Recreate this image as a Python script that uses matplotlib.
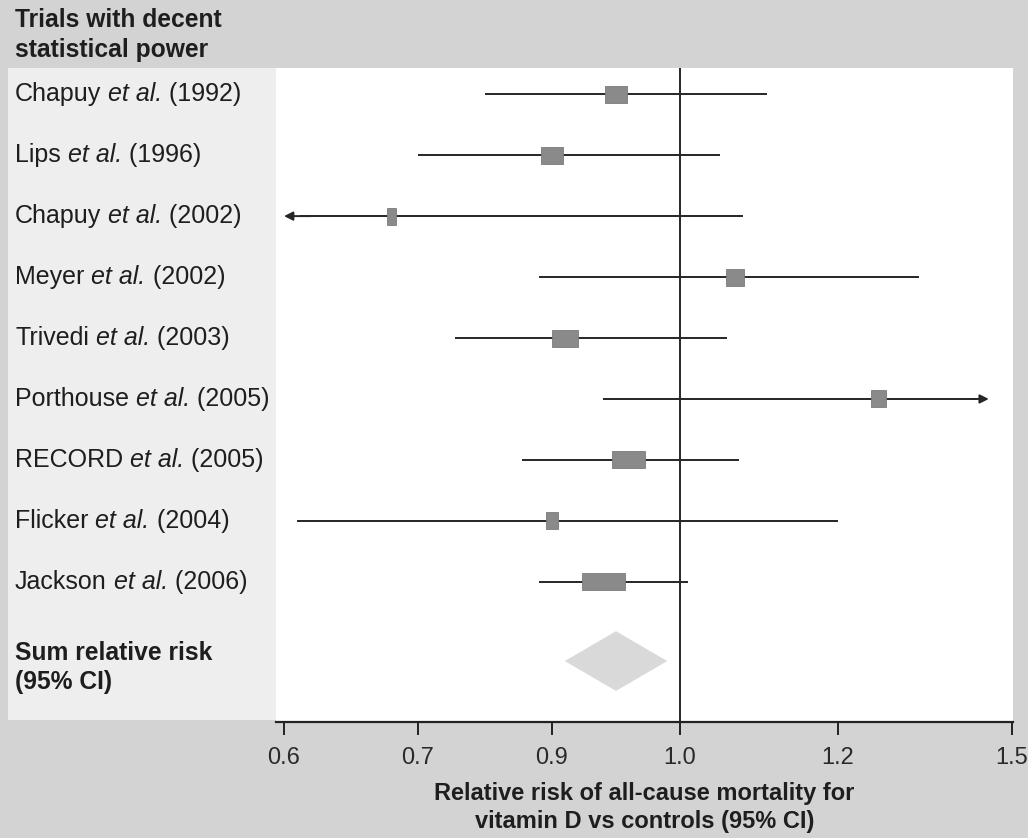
import numpy as np
import matplotlib
matplotlib.use("Agg")
import matplotlib.pyplot as plt
from matplotlib.patches import Rectangle, Polygon
from matplotlib.transforms import ScaledTranslation, blended_transform_factory

plt.rcParams['font.family'] = ['Liberation Sans', 'DejaVu Sans']

# ---- data -------------------------------------------------------------
authors = ["Chapuy", "Lips", "Chapuy", "Meyer", "Trivedi",
           "Porthouse", "RECORD", "Flicker", "Jackson"]
years = [1992, 1996, 2002, 2002, 2003, 2005, 2005, 2004, 2006]
rel_risk = [0.95, 0.90, 0.68, 1.07, 0.91, 1.27, 0.96, 0.90, 0.94]
ci_low = [0.80, 0.70, 0.60, 0.88, 0.755, 0.94, 0.855, 0.61, 0.88]
ci_high = [1.11, 1.05, 1.08, 1.34, 1.06, 1.46, 1.075, 1.20, 1.01]
truncated = ["", "", "low", "", "", "high", "", "", ""]
weight_pct = [10.9, 11.4, 4.5, 9.0, 12.9, 7.5, 16.4, 6.0, 21.4]

summary_rr = 0.95
summary_low = 0.91
summary_high = 0.99

tick_values = [0.6, 0.7, 0.9, 1.0, 1.2, 1.5]
tick_labels = ["0.6", "0.7", "0.9", "1.0", "1.2", "1.5"]

# ---- axis scale: piecewise-linear between the printed tick values -------
_scale_pos = np.array([0.0, 134.0, 268.0, 396.0, 554.0, 728.0])
_scale_val = np.array(tick_values)


def _piecewise(v, xs, ys):
    v = np.asarray(v, dtype=float)
    out = np.interp(v, xs, ys)
    s_lo = (ys[1] - ys[0]) / (xs[1] - xs[0])
    s_hi = (ys[-1] - ys[-2]) / (xs[-1] - xs[-2])
    out = np.where(v < xs[0], ys[0] + (v - xs[0]) * s_lo, out)
    out = np.where(v > xs[-1], ys[-1] + (v - xs[-1]) * s_hi, out)
    return out


def forward(v):
    return _piecewise(v, _scale_val, _scale_pos)


def inverse(p):
    return _piecewise(p, _scale_pos, _scale_val)


# ---- figure -----------------------------------------------------------
W, H = 1028, 838
fig = plt.figure(figsize=(W / 100, H / 100), dpi=100)
fig.patch.set_facecolor("#d3d3d3")

# light label column
fig.patches.append(Rectangle((8 / W, 1 - 720 / H), (276 - 8) / W, (720 - 68) / H,
                             transform=fig.transFigure, facecolor="#eeeeee",
                             edgecolor="none", zorder=-1))

ax = fig.add_axes([276 / W, 1 - 722 / H, (1013 - 276) / W, (722 - 68) / H])
ax.set_facecolor("white")
ax.set_xscale("function", functions=(forward, inverse))
ax.set_xlim(inverse(-8.0), inverse(729.0))

row_y = np.arange(len(authors), dtype=float)
summary_y = 9.3
ax.set_ylim(10.3, -0.43)

for s in ("top", "left", "right"):
    ax.spines[s].set_visible(False)
ax.spines["bottom"].set_color("#222222")
ax.spines["bottom"].set_linewidth(1.6)
ax.set_yticks([])
ax.set_xticks(tick_values)
ax.set_xticklabels(tick_labels)
ax.tick_params(axis="x", direction="out", length=9, width=1.4,
               color="#222222", labelsize=17, labelcolor="#2a2a2a", pad=9)

ink = "#262626"
ax.axvline(1.0, color=ink, lw=1.4, zorder=2)

box_h_px = 17
px_per_pct = 2.0
for i in range(len(authors)):
    y = row_y[i]
    lo, hi = ci_low[i], ci_high[i]
    if truncated[i] == "low":
        ax.plot([lo + 0.012, hi], [y, y], color=ink, lw=1.4, zorder=3,
                solid_capstyle="butt")
        ax.annotate("", xy=(lo, y), xytext=(lo + 0.02, y),
                    arrowprops=dict(arrowstyle="-|>", color=ink, lw=1.4,
                                    mutation_scale=13, shrinkA=0, shrinkB=0))
    elif truncated[i] == "high":
        ax.plot([lo, hi - 0.02], [y, y], color=ink, lw=1.4, zorder=3,
                solid_capstyle="butt")
        ax.annotate("", xy=(hi, y), xytext=(hi - 0.03, y),
                    arrowprops=dict(arrowstyle="-|>", color=ink, lw=1.4,
                                    mutation_scale=13, shrinkA=0, shrinkB=0))
    else:
        ax.plot([lo, hi], [y, y], color=ink, lw=1.4, zorder=3,
                solid_capstyle="butt")

    w_in = weight_pct[i] * px_per_pct / 100
    h_in = box_h_px / 100
    tr = fig.dpi_scale_trans + ScaledTranslation(rel_risk[i], y, ax.transData)
    ax.add_patch(Rectangle((-w_in / 2, -h_in / 2), w_in, h_in, transform=tr,
                           facecolor="#8a8a8a", edgecolor="#7a7a7a", lw=0.6,
                           zorder=4))

# pooled estimate diamond
dh = 0.49
ax.add_patch(Polygon([(summary_low, summary_y), (summary_rr, summary_y - dh),
                      (summary_high, summary_y), (summary_rr, summary_y + dh)],
                     closed=True, facecolor="#d9d9d9", edgecolor="none",
                     zorder=3))

# row labels in the left column: author, italic "et al.", year
lab_tr = blended_transform_factory(fig.transFigure, ax.transData)
label_kw = dict(fontsize=18, color="#1e1e1e", annotation_clip=False)
for i in range(len(authors)):
    t1 = ax.text(15 / W, row_y[i], authors[i], transform=lab_tr,
                 fontsize=18, color="#1e1e1e", va="center", ha="left",
                 clip_on=False)
    t2 = ax.annotate(" et al.", xy=(1, 0), xycoords=t1, va="bottom",
                     ha="left", style="italic", **label_kw)
    ax.annotate(" (%d)" % years[i], xy=(1, 0), xycoords=t2, va="bottom",
                ha="left", **label_kw)
ax.text(15 / W, 9.41, "Sum relative risk\n(95% CI)", transform=lab_tr,
        fontsize=17.7, fontweight="bold", color="#1e1e1e", va="center",
        ha="left", linespacing=1.25, clip_on=False)

fig.text(15 / W, 1 - 8 / H, "Trials with decent\nstatistical power",
         fontsize=17.7, fontweight="bold", color="#1e1e1e", va="top",
         ha="left", linespacing=1.3)

ax.set_xlabel("Relative risk of all-cause mortality for\nvitamin D vs controls (95% CI)",
              fontsize=17, fontweight="bold", color="#1e1e1e", labelpad=9,
              linespacing=1.3)

fig.savefig("out.png", dpi=100, facecolor=fig.get_facecolor())
